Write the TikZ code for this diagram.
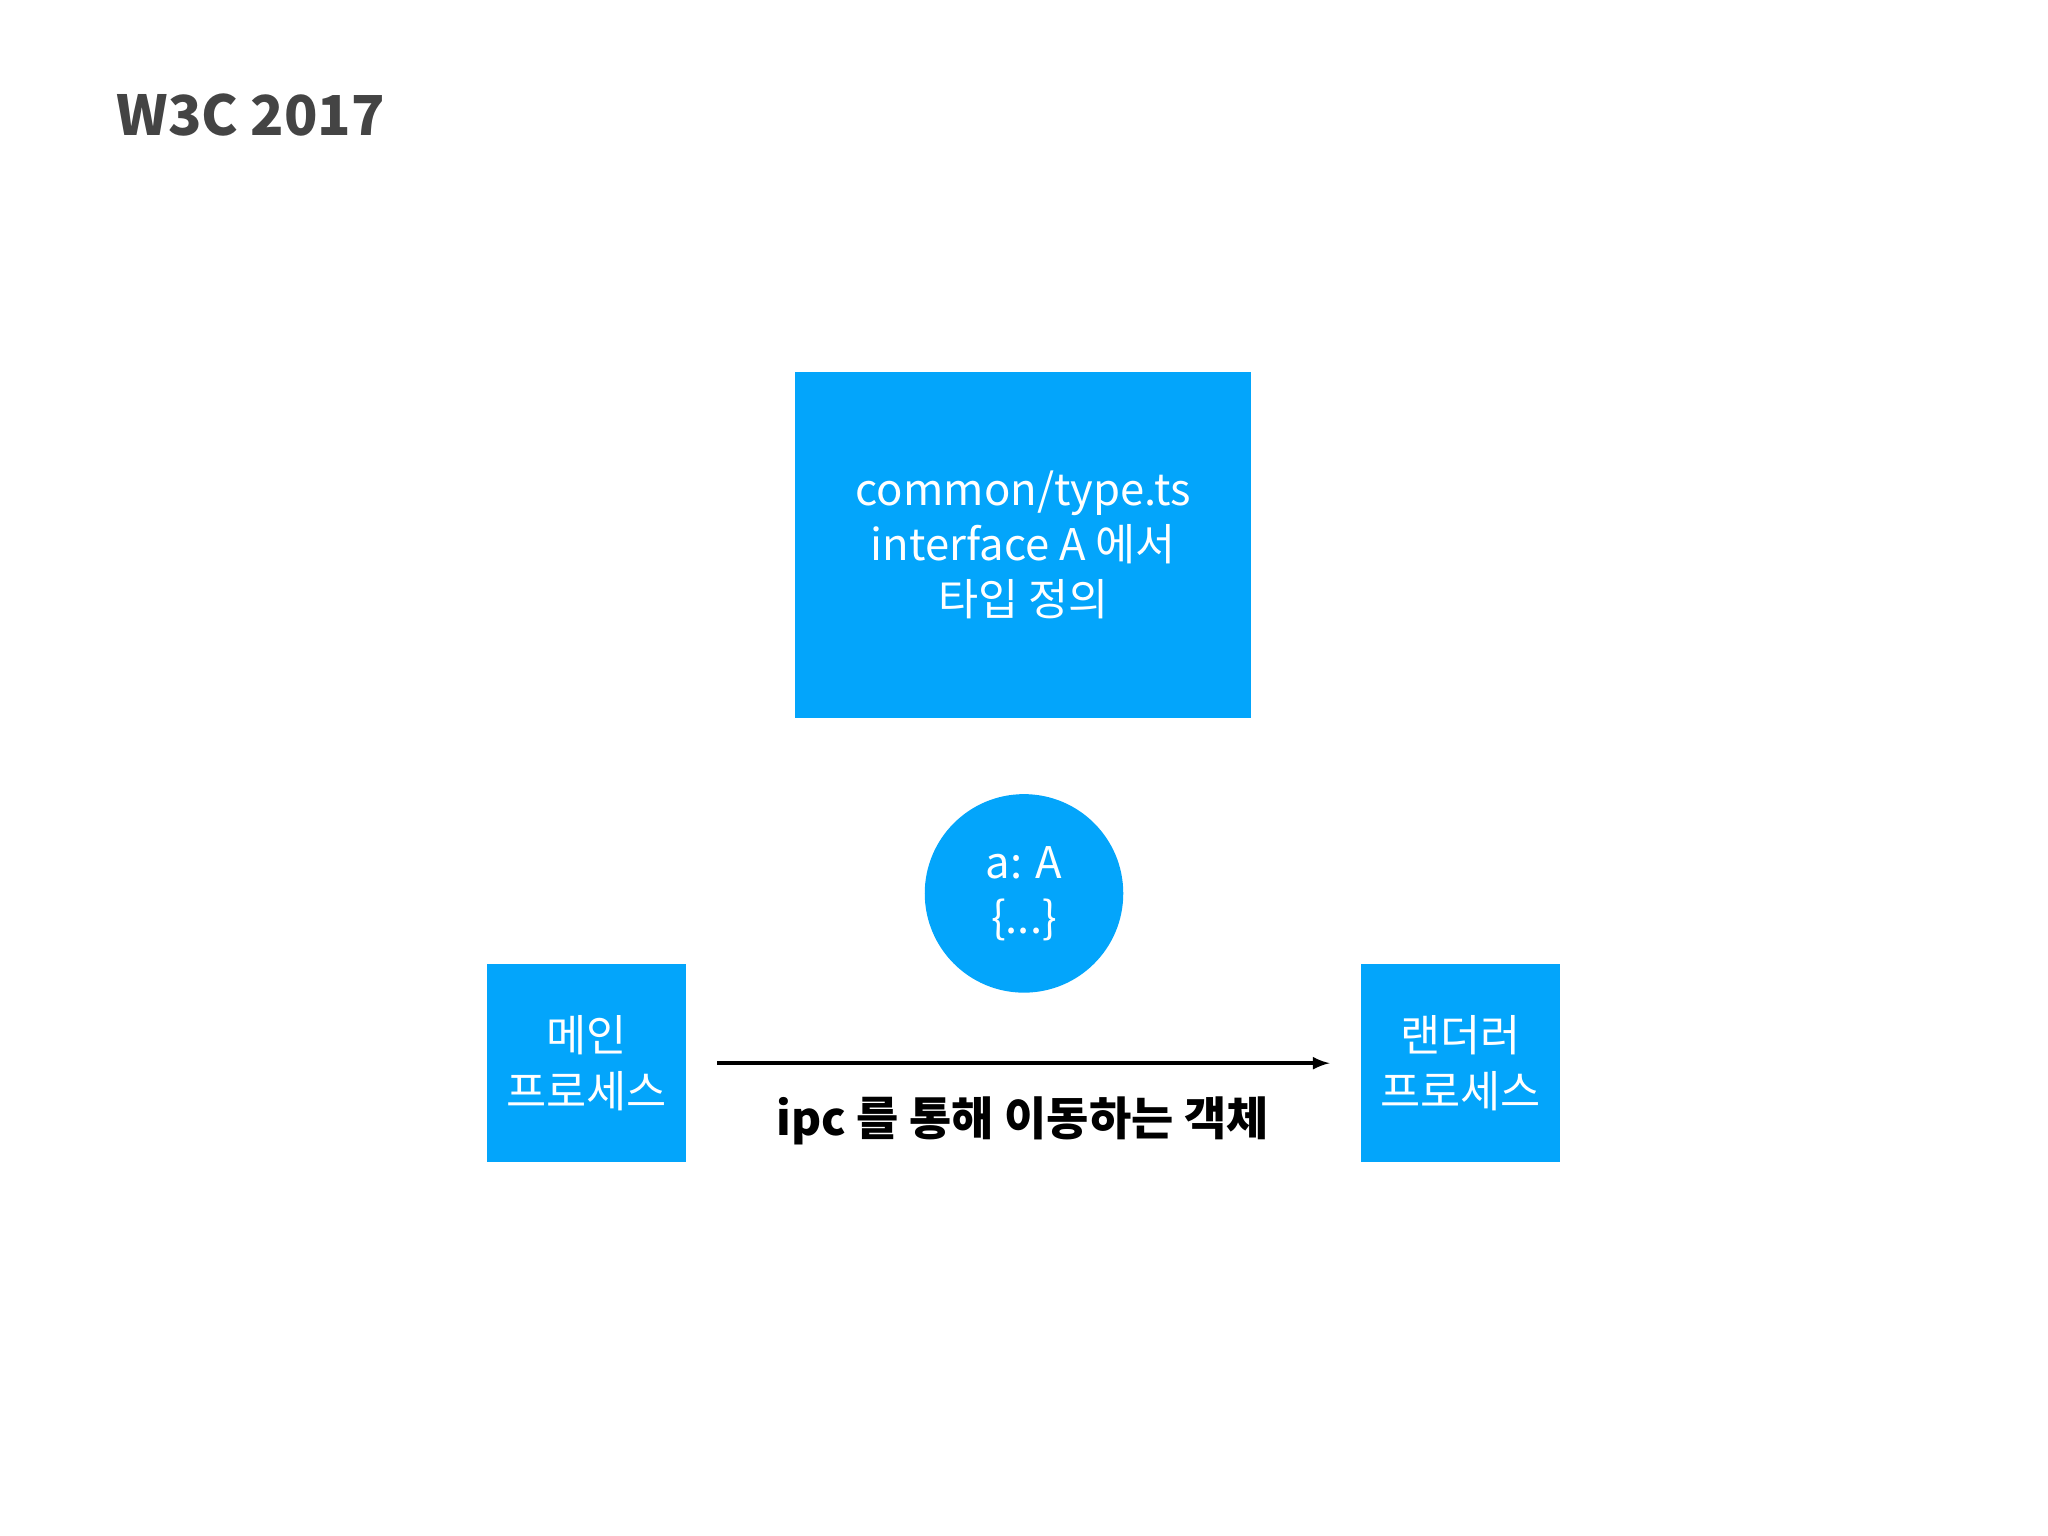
\documentclass[tikz,border=0pt]{standalone}
\usepackage{fontspec}
\setmainfont{Noto Sans CJK KR}
\definecolor{boxblue}{HTML}{03A5FB}
\definecolor{titlegray}{HTML}{444444}
\begin{document}
\begin{tikzpicture}[x=0.02cm,y=-0.02cm,
  bluebox/.style={fill=boxblue,draw=none,text=white,align=center,inner sep=0pt,font=\fontsize{19}{24}\selectfont}]
\useasboundingbox (0,0) rectangle (1568,1176);
\node[anchor=west,text=titlegray,font=\bfseries\fontsize{24}{28}\selectfont] (title) at (83,88) {W3C 2017};
\node[bluebox,minimum width=349*0.02cm,minimum height=265*0.02cm] (top) at (783.5,417.5) {common/type.ts\\interface A 에서\\타입 정의};
\node[bluebox,circle,minimum size=152*0.02cm] (obj) at (784,684) {a: A\\\{...\}};
\node[bluebox,minimum width=152*0.02cm,minimum height=152*0.02cm] (main) at (449,814) {메인\\프로세스};
\node[bluebox,minimum width=152*0.02cm,minimum height=152*0.02cm] (rend) at (1118,814) {랜더러\\프로세스};
\coordinate (s) at (549,814);
\coordinate (e) at (1018,814);
\draw[line width=1.5pt,-latex] (s) -- (e);
\node[font=\bfseries\fontsize{20}{24}\selectfont] (lbl) at (783,858) {ipc 를 통해 이동하는 객체};
\end{tikzpicture}
\end{document}
